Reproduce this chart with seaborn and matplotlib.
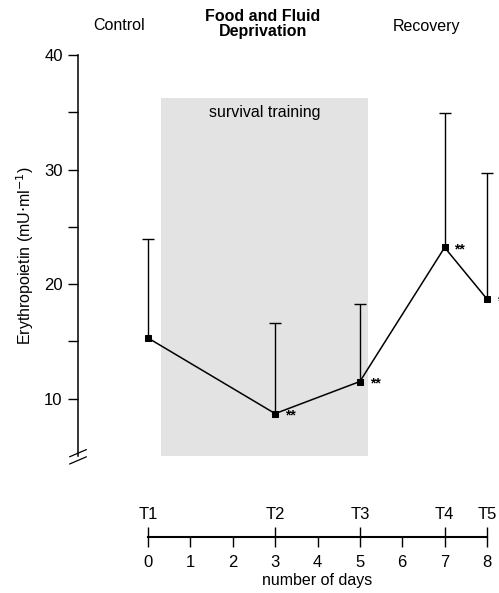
import numpy as np
import pandas as pd
import matplotlib
matplotlib.use("Agg")
import matplotlib.pyplot as plt
import seaborn as sns

# ---- data ----
timepoints = ["T1", "T2", "T3", "T4", "T5"]
days = [0, 3, 5, 7, 8]
epo_mean = [15.3, 8.7, 11.5, 23.2, 18.7]
epo_sd = [8.6, 7.9, 6.8, 11.7, 11.0]
signif = ["", "**", "**", "**", "*"]
phase_labels = ["Control", "Food and Fluid\nDeprivation", "Recovery"]
y_major = [10, 20, 30, 40]
y_minor = [15, 25, 35]
day_major = [0, 3, 5, 7, 8]
day_minor = [1, 2, 4, 6]

sns.set_theme(style="white")
plt.rcParams["font.family"] = ["Liberation Sans", "DejaVu Sans"]
plt.rcParams.update({"text.color": "black", "axes.labelcolor": "black",
                     "xtick.color": "black", "ytick.color": "black"})

W, H = 499, 593
fig = plt.figure(figsize=(W / 100, H / 100), dpi=100)

# main axes geometry (pixels)
left_px, right_px = 78, 499
top_px, bot_px = 55, 456
ymin, ymax = 5.0, 40.0
x0_px, x8_px = 148, 487
ppd = (x8_px - x0_px) / 8.0
xlim = ((left_px - x0_px) / ppd, (right_px - x0_px) / ppd)

ax = fig.add_axes([left_px / W, (H - bot_px) / H, (right_px - left_px) / W, (bot_px - top_px) / H])
ax.set_xlim(*xlim)
ax.set_ylim(ymin, ymax)

# shaded survival training period
ax.fill_between([0.31, 5.2], ymin, 36.25, color="#e3e3e3", lw=0, zorder=0)
ax.text(2.75, 34.95, "survival training", ha="center", va="center", fontsize=11.5)

df = pd.DataFrame({"day": days, "epo": epo_mean})
sns.lineplot(data=df, x="day", y="epo", color="black", lw=1.1, marker="s",
             markersize=4.8, markeredgecolor="black", ax=ax, zorder=3)
eb = ax.errorbar(days, epo_mean, yerr=[np.zeros(len(epo_sd)), epo_sd], fmt="none",
                 ecolor="black", elinewidth=1.0, capsize=4.5, capthick=1.0, zorder=2)
# keep only the upper caps (one-sided error bars)
eb[1][0].set_visible(False)
for d, m, s in zip(days, epo_mean, signif):
    if s:
        ax.annotate(s, (d, m), xytext=(7, -1.5), textcoords="offset points",
                    ha="left", va="center", fontsize=10, fontweight="bold",
                    annotation_clip=False)

for sp in ["top", "right", "bottom"]:
    ax.spines[sp].set_visible(False)
ax.spines["left"].set_color("black")
ax.spines["left"].set_linewidth(1.1)
ax.set_yticks(y_major)
ax.set_yticks(y_minor, minor=True)
ax.set_yticklabels([str(v) for v in y_major])
ax.tick_params(axis="y", which="both", direction="out", length=7, width=1,
               color="black", left=True, labelsize=12, pad=4)
ax.set_xticks([])
ax.set_xlabel("")
ax.set_ylabel(r"Erythropoietin (mU$\cdot$ml$^{-1}$)", fontsize=11.5, labelpad=6)

# axis break marks
for dy in (0.0, 0.018):
    ax.plot([-0.02, 0.02], [-0.020 + dy, -0.002 + dy], transform=ax.transAxes,
            color="black", lw=0.9, clip_on=False)

# phase labels
fig.text(119 / W, 1 - 25 / H, phase_labels[0], ha="center", va="center", fontsize=11.5)
fig.text(263 / W, 1 - 24 / H, phase_labels[1], ha="center", va="center",
         fontsize=11.5, fontweight="bold", linespacing=0.95)
fig.text(426 / W, 1 - 27 / H, phase_labels[2], ha="center", va="center", fontsize=11.5)

# bottom days axis
line_px = 537
ax2 = fig.add_axes([x0_px / W, (H - line_px) / H, (x8_px - x0_px) / W, 0.001])
ax2.set_xlim(0, 8)
ax2.set_ylim(0, 1)
for sp in ["top", "right", "left"]:
    ax2.spines[sp].set_visible(False)
ax2.spines["bottom"].set_color("black")
ax2.spines["bottom"].set_linewidth(1.5)
ax2.set_yticks([])
ax2.set_xticks(day_major)
ax2.set_xticklabels([str(v) for v in day_major])
ax2.set_xticks(day_minor, minor=True)
ax2.set_xticklabels([str(v) for v in day_minor], minor=True)
ax2.tick_params(axis="x", which="major", direction="inout", length=14, width=1,
                color="black", bottom=True, labelsize=12, pad=6)
ax2.tick_params(axis="x", which="minor", direction="out", length=7, width=1,
                color="black", bottom=True, labelsize=12, pad=6)
ax2.set_xlabel("number of days", fontsize=11.5, labelpad=2)
for d, t in zip(days, timepoints):
    ax2.annotate(t, (d, 0), xytext=(0, 16), textcoords="offset points",
                 ha="center", va="center", fontsize=12, annotation_clip=False)

fig.savefig("out.png", dpi=100)
